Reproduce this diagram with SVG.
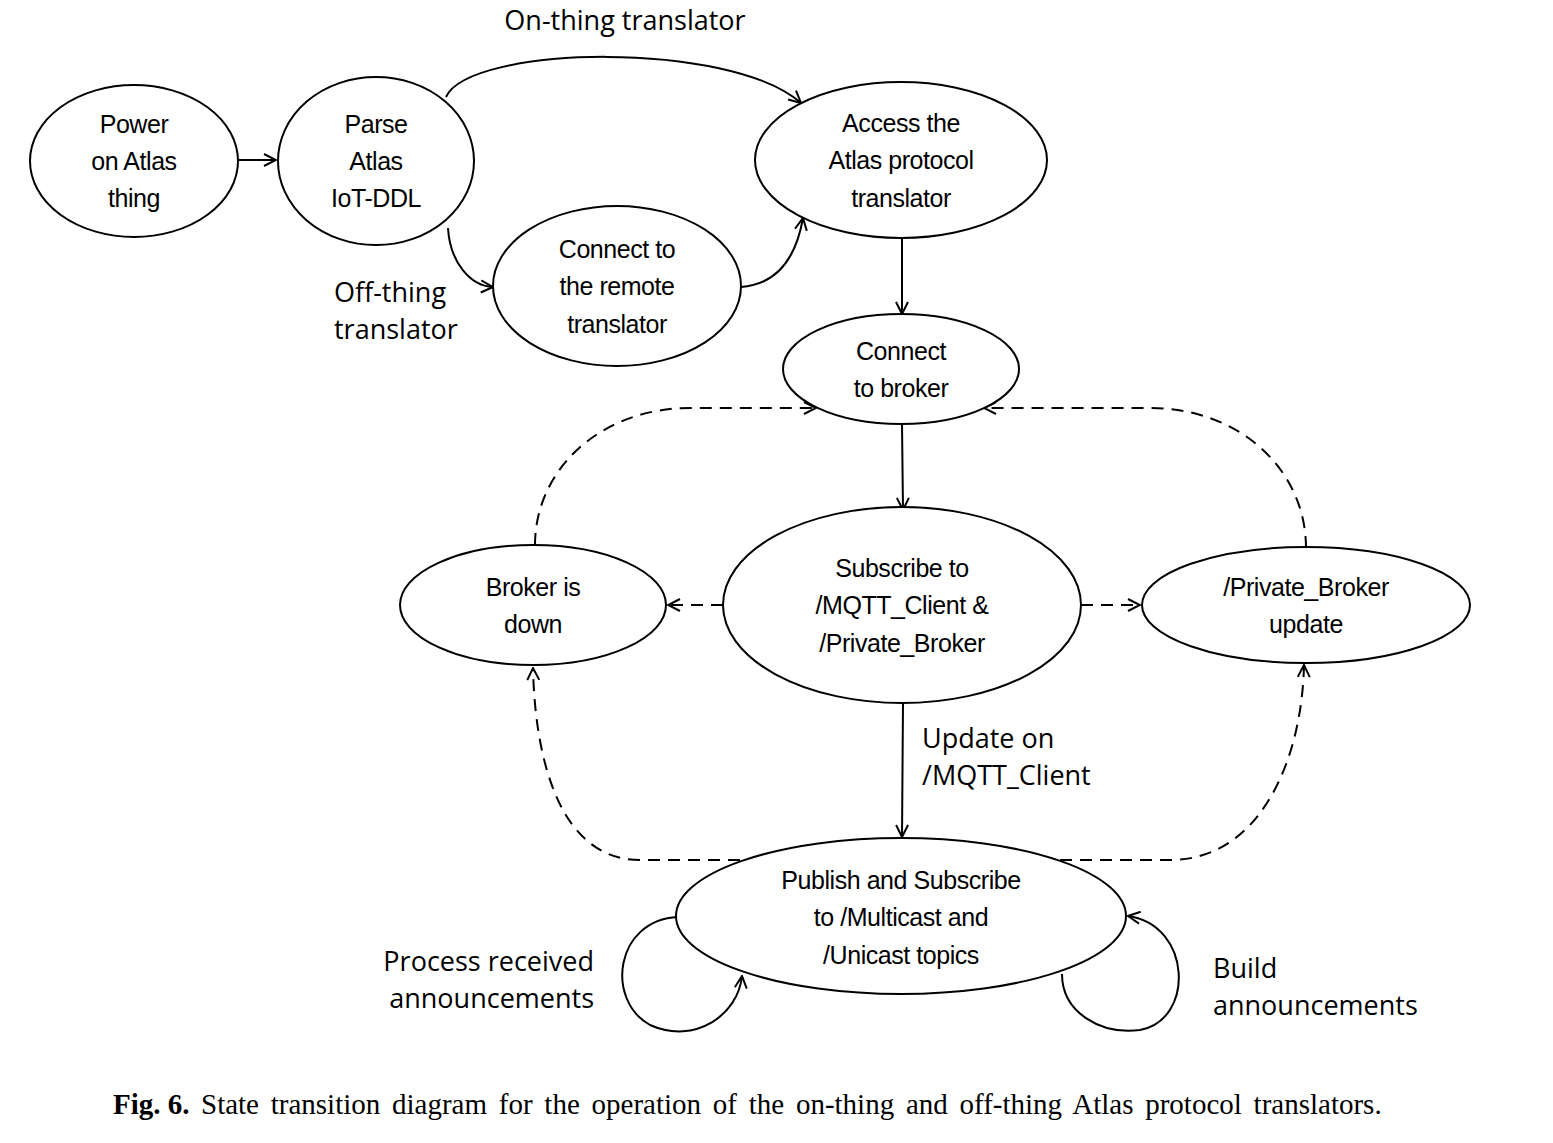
<svg xmlns="http://www.w3.org/2000/svg" width="1553" height="1143" viewBox="0 0 1553 1143">
<style>
.node ellipse{fill:#fff;stroke:#000;stroke-width:2}
.nt{font-family:"Liberation Sans",Arial,sans-serif;font-size:25px;letter-spacing:-0.45px;text-anchor:middle;fill:#000}
.lbl{font-family:"Open Sans","Noto Sans",sans-serif;font-size:27px;fill:#000}
.c{fill:none;stroke:#000;stroke-width:2}
.d{stroke-dasharray:12,8}
.cap{font-family:"Liberation Serif","Times New Roman",serif;font-size:29px;fill:#000;word-spacing:4.5px}
</style>
<defs>
<marker id="ah" viewBox="0 0 14 14" refX="13" refY="7" markerWidth="14" markerHeight="14" markerUnits="userSpaceOnUse" orient="auto">
<path d="M1,1 L13,7 L1,13" fill="none" stroke="#000" stroke-width="2"/>
</marker>
</defs>
<rect width="1553" height="1143" fill="#fff"/>
<g id="connectors">
<line class="c" x1="238" y1="160" x2="276" y2="160" marker-end="url(#ah)"/>
<path class="c" d="M446,97 C470,45 730,40 801,103" marker-end="url(#ah)"/>
<path class="c" d="M448,228 C450,262 470,286 493,287" marker-end="url(#ah)"/>
<path class="c" d="M741,287 C782,284 797,252 803,218" marker-end="url(#ah)"/>
<line class="c" x1="902" y1="239" x2="902" y2="314" marker-end="url(#ah)"/>
<line class="c" x1="902" y1="424" x2="903" y2="510" marker-end="url(#ah)"/>
<line class="c d" x1="723" y1="605" x2="668" y2="605" marker-end="url(#ah)"/>
<line class="c d" x1="1081" y1="605" x2="1140" y2="605" marker-end="url(#ah)"/>
<path class="c d" d="M535,545 C535,470 600,408 690,408 L816,408" marker-end="url(#ah)"/>
<path class="c d" d="M1306,548 C1306,470 1240,408 1150,408 L984,408" marker-end="url(#ah)"/>
<line class="c" x1="903" y1="703" x2="902" y2="837" marker-end="url(#ah)"/>
<path class="c d" d="M760,860 L640,860 C560,860 535,760 533,668" marker-end="url(#ah)"/>
<path class="c d" d="M1060,860 L1170,860 C1260,860 1302,760 1304,665" marker-end="url(#ah)"/>
<path class="c" d="M678,917 C615,920 605,1000 650,1025 C695,1045 738,1015 742,976" marker-end="url(#ah)"/>
<path class="c" d="M1062,974 C1062,1012 1100,1035 1140,1030 C1195,1020 1192,925 1128,916" marker-end="url(#ah)"/>
</g>
<g id="n-power" class="node"><ellipse cx="134" cy="161" rx="104" ry="76"/>
<text class="nt" x="134" y="133">Power</text><text class="nt" x="134" y="170">on Atlas</text><text class="nt" x="134" y="207">thing</text></g>
<g id="n-parse" class="node"><ellipse cx="376" cy="161" rx="98" ry="84"/>
<text class="nt" x="376" y="133">Parse</text><text class="nt" x="376" y="170">Atlas</text><text class="nt" x="376" y="207">IoT-DDL</text></g>
<g id="n-access" class="node"><ellipse cx="901" cy="160" rx="146" ry="78"/>
<text class="nt" x="901" y="132">Access the</text><text class="nt" x="901" y="169">Atlas protocol</text><text class="nt" x="901" y="207">translator</text></g>
<g id="n-remote" class="node"><ellipse cx="617" cy="286" rx="124" ry="80"/>
<text class="nt" x="617" y="258">Connect to</text><text class="nt" x="617" y="295">the remote</text><text class="nt" x="617" y="333">translator</text></g>
<g id="n-broker" class="node"><ellipse cx="901" cy="369" rx="118" ry="55"/>
<text class="nt" x="901" y="360">Connect</text><text class="nt" x="901" y="397">to broker</text></g>
<g id="n-subscribe" class="node"><ellipse cx="902" cy="605" rx="179" ry="98"/>
<text class="nt" x="902" y="577">Subscribe to</text><text class="nt" x="902" y="614">/MQTT_Client &amp;</text><text class="nt" x="902" y="652">/Private_Broker</text></g>
<g id="n-down" class="node"><ellipse cx="533" cy="605" rx="133" ry="60"/>
<text class="nt" x="533" y="596">Broker is</text><text class="nt" x="533" y="633">down</text></g>
<g id="n-private" class="node"><ellipse cx="1306" cy="605" rx="164" ry="58"/>
<text class="nt" x="1306" y="596">/Private_Broker</text><text class="nt" x="1306" y="633">update</text></g>
<g id="n-publish" class="node"><ellipse cx="901" cy="916" rx="225" ry="78"/>
<text class="nt" x="901" y="889">Publish and Subscribe</text><text class="nt" x="901" y="926">to /Multicast and</text><text class="nt" x="901" y="964">/Unicast topics</text></g>
<g id="labels">
<text class="lbl" x="625" y="30" text-anchor="middle">On-thing translator</text>
<text class="lbl" x="334" y="302">Off-thing</text>
<text class="lbl" x="334" y="339">translator</text>
<text class="lbl" x="922" y="748">Update on</text>
<text class="lbl" x="922" y="785">/MQTT_Client</text>
<text class="lbl" x="594" y="971" text-anchor="end">Process received</text>
<text class="lbl" x="594" y="1008" text-anchor="end">announcements</text>
<text class="lbl" x="1213" y="978">Build</text>
<text class="lbl" x="1213" y="1015">announcements</text>
</g>
<text class="cap" x="113" y="1114"><tspan font-weight="bold" word-spacing="0">Fig. 6.</tspan><tspan x="201">State transition diagram for the operation of the on-thing and off-thing Atlas protocol translators.</tspan></text>
</svg>
